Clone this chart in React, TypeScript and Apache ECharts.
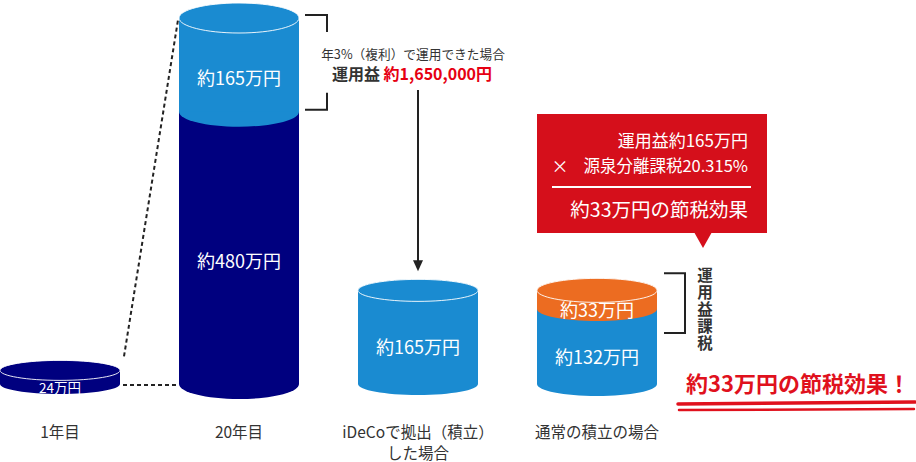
import React, { useEffect, useRef } from 'react';
import * as echarts from 'echarts';

// ---- data (万円) ----
const categories = ['1年目', '20年目', 'iDeCoで拠出（積立）\nした場合', '通常の積立の場合'];
const principalValues = [24, 480, 165, 132]; // lower segment
const gainValues = [0, 165, 0, 33]; // upper segment
const principalLabels = ['24万円', '約480万円', '約165万円', '約132万円'];
const gainLabels = ['', '約165万円', '', '約33万円'];
const Y_MAX = 645;

// ---- styles ----
const NAVY = '#00007f';
const BLUE = '#1a8bd1';
const ORANGE = '#ec6c21';
const RED = '#d50f1b';
const TEXT = '#333333';
const principalColors = [NAVY, NAVY, BLUE, BLUE];
const gainColors = ['', BLUE, '', ORANGE];
const RX = 60;
const RY = [10, 15, 11, 12];
const FONT = '"Noto Sans CJK JP", "Noto Sans", sans-serif';

const segments: number[][] = [];
categories.forEach((_, i) => {
  segments.push([i, 0, principalValues[i], 0]);
  if (gainValues[i] > 0) segments.push([i, principalValues[i], principalValues[i] + gainValues[i], 1]);
});

const renderCylinder = (params: any, api: any) => {
  const ci = api.value(0);
  const s = api.value(1);
  const e = api.value(2);
  const kind = api.value(3);
  const [cx, yb] = api.coord([ci, s]);
  const [, yt] = api.coord([ci, e]);
  const ry = RY[ci];
  const fill = kind === 0 ? principalColors[ci] : gainColors[ci];
  const isTop = kind === 1 || gainValues[ci] === 0;
  const label = kind === 0 ? principalLabels[ci] : gainLabels[ci];
  const small = ci === 0;
  return {
    type: 'group',
    children: [
      { type: 'ellipse', shape: { cx, cy: yb, rx: RX, ry }, style: { fill } },
      { type: 'rect', shape: { x: cx - RX, y: yt, width: RX * 2, height: yb - yt }, style: { fill } },
      {
        type: 'ellipse',
        shape: { cx, cy: yt, rx: RX, ry },
        style: { fill, stroke: isTop ? 'rgba(255,255,255,0.9)' : null, lineWidth: 1 },
      },
      {
        type: 'text',
        x: cx,
        y: small ? yb + 3 : (yt + yb) / 2 + ry * 0.8,
        style: {
          text: label,
          fill: '#fff',
          fontSize: small ? 13.5 : 18,
          fontFamily: FONT,
          align: 'center',
          verticalAlign: 'middle',
        },
      },
    ],
  };
};

const renderAnnotations = (params: any, api: any) => {
  const c = (i: number, v: number) => api.coord([i, v]);
  const [x0, b0] = c(0, 0);
  const [, t0] = c(0, principalValues[0] + gainValues[0]);
  const [x1, b1] = c(1, 0);
  const [, t1] = c(1, principalValues[1] + gainValues[1]);
  const [, m1] = c(1, principalValues[1]);
  const [x2] = c(2, 0);
  const [, t2] = c(2, principalValues[2] + gainValues[2]);
  const [x3] = c(3, 0);
  const [, t3] = c(3, principalValues[3] + gainValues[3]);
  const [, m3] = c(3, principalValues[3]);
  const dash = { stroke: '#222', lineWidth: 2, lineDash: [4, 3], fill: null };
  const solid = { stroke: '#222', lineWidth: 2, fill: null };
  const tip = t2 - RY[2] - 8;
  return {
    type: 'group',
    children: [
      { type: 'line', shape: { x1: x0 + RX + 4, y1: t0 - 14, x2: x1 - RX - 1, y2: t1 + 2 }, style: dash },
      { type: 'line', shape: { x1: x0 + RX + 3, y1: b0 + 1, x2: x1 - RX - 3, y2: b1 + 1 }, style: dash },
      {
        type: 'polyline',
        shape: { points: [[x1 + RX + 6, t1 - 3], [x1 + RX + 28, t1 - 3], [x1 + RX + 28, t1 + 14]] },
        style: solid,
      },
      {
        type: 'polyline',
        shape: { points: [[x1 + RX + 28, m1 - 19], [x1 + RX + 28, m1 - 2], [x1 + RX + 6, m1 - 2]] },
        style: solid,
      },
      { type: 'line', shape: { x1: x2, y1: 90, x2: x2, y2: tip - 8 }, style: { stroke: '#222', lineWidth: 2 } },
      {
        type: 'polygon',
        shape: { points: [[x2 - 5, tip - 11], [x2 + 5, tip - 11], [x2, tip]] },
        style: { fill: '#222' },
      },
      {
        type: 'polyline',
        shape: {
          points: [
            [x3 + RX + 7, t3 - RY[3] - 5],
            [x3 + RX + 28, t3 - RY[3] - 5],
            [x3 + RX + 28, m3 + RY[3] + 12],
            [x3 + RX + 7, m3 + RY[3] + 12],
          ],
        },
        style: solid,
      },
    ],
  };
};

const txt = (x: number, y: number, text: string, extra: any = {}) => ({
  type: 'text',
  x,
  y,
  silent: true,
  style: {
    text,
    fontFamily: FONT,
    fontSize: 16,
    fill: '#fff',
    align: 'center',
    verticalAlign: 'middle',
    ...extra,
  },
});

const verticalChars = ['運', '用', '益', '課', '税'];

export default function App() {
  const ref = useRef<HTMLDivElement>(null);
  useEffect(() => {
    if (!ref.current) return;
    const chart = echarts.init(ref.current, undefined, { renderer: 'svg' });
    chart.setOption({
      animation: false,
      backgroundColor: '#ffffff',
      grid: { left: 60, right: 319, top: 18, bottom: 77 },
      xAxis: {
        type: 'category',
        data: categories,
        boundaryGap: false,
        axisLine: { show: false },
        axisTick: { show: false },
        splitLine: { show: false },
        axisLabel: {
          margin: 36,
          fontSize: 15.5,
          lineHeight: 21,
          color: TEXT,
          fontFamily: FONT,
          interval: 0,
        },
      },
      yAxis: { type: 'value', min: 0, max: Y_MAX, show: false, splitLine: { show: false } },
      series: [
        {
          type: 'custom',
          renderItem: renderCylinder,
          data: segments,
          encode: { x: 0, y: [1, 2] },
          clip: false,
          silent: true,
        },
        {
          type: 'custom',
          renderItem: renderAnnotations,
          data: [[0, 0]],
          encode: { x: 0, y: 1 },
          clip: false,
          silent: true,
        },
      ],
      graphic: [
        txt(413, 53, '年3%（複利）で運用できた場合', { fill: TEXT, fontSize: 12.7 }),
        {
          type: 'text',
          x: 412,
          y: 73,
          style: {
            text: '{a|運用益 }{b|約1,650,000円}',
            align: 'center',
            verticalAlign: 'middle',
            rich: {
              a: { fontFamily: FONT, fontSize: 16, fontWeight: 'bold', fill: TEXT },
              b: { fontFamily: FONT, fontSize: 16, fontWeight: 'bold', fill: '#e60012' },
            },
          },
        },
        { type: 'rect', shape: { x: 537, y: 114, width: 230, height: 119 }, style: { fill: RED } },
        { type: 'polygon', shape: { points: [[694, 232], [712, 232], [703, 248]] }, style: { fill: RED } },
        txt(748, 139, '運用益約165万円', { align: 'right', fontSize: 17 }),
        txt(560, 165, '×', { fontSize: 17 }),
        txt(748, 165, '源泉分離課税20.315%', { align: 'right', fontSize: 16.5 }),
        { type: 'line', shape: { x1: 552, y1: 187, x2: 751, y2: 187 }, style: { stroke: '#fff', lineWidth: 2 } },
        txt(748, 208, '約33万円の節税効果', { align: 'right', fontSize: 19.5 }),
        ...verticalChars.map((ch, k) =>
          txt(705, 274 + k * 17, ch, { fill: TEXT, fontSize: 15.5, lineHeight: 17, fontWeight: 'bold' })
        ),
        txt(798, 382, '約33万円の節税効果！', { fill: '#e0111d', fontSize: 22, fontWeight: 'bold' }),
        {
          type: 'line',
          shape: { x1: 678, y1: 404, x2: 915, y2: 402 },
          style: { stroke: '#e0111d', lineWidth: 3.5, lineCap: 'round' },
        },
        {
          type: 'line',
          shape: { x1: 679, y1: 410, x2: 914, y2: 409 },
          style: { stroke: '#e0111d', lineWidth: 2.5, lineCap: 'round' },
        },
      ],
    });
    return () => chart.dispose();
  }, []);
  return (
    <div
      ref={ref}
      style={{ position: 'absolute', left: 0, top: 0, width: 916, height: 462 }}
    />
  );
}
